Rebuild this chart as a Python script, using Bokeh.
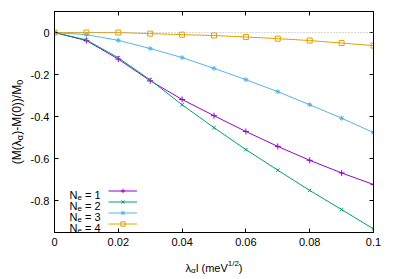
from bokeh.plotting import figure
from bokeh.models import (Range1d, LinearAxis, FixedTicker, CustomJSTickFormatter,
                          Legend, LegendItem, Label, Span)
from bokeh.embed import file_html
from bokeh.resources import INLINE

# ---------------- data ----------------
lam = [0.0, 0.01, 0.02, 0.03, 0.04, 0.05, 0.06, 0.07, 0.08, 0.09, 0.1]
ne1 = [0.0, -0.038, -0.126, -0.229, -0.318, -0.395, -0.470, -0.541, -0.607, -0.667, -0.722]
ne2 = [0.0, -0.035, -0.120, -0.225, -0.343, -0.452, -0.556, -0.654, -0.750, -0.841, -0.933]
ne3 = [0.0, -0.010, -0.037, -0.076, -0.119, -0.170, -0.224, -0.281, -0.343, -0.407, -0.475]
ne4 = [0.0, 0.0, 0.0, -0.005, -0.010, -0.014, -0.021, -0.029, -0.038, -0.050, -0.062]

series_names = ["1", "2", "3", "4"]
series_vals = [ne1, ne2, ne3, ne4]
colors = ["#9400d3", "#009e73", "#56b4e9", "#e69f00"]
markers = ["cross", "x", "asterisk", "square"]
msizes = [6, 5, 5, 5]

xtick_vals = [0.0, 0.02, 0.04, 0.06, 0.08, 0.1]
xtick_labels = ["0", "0.02", "0.04", "0.06", "0.08", "0.1"]
ytick_vals = [-0.8, -0.6, -0.4, -0.2, 0.0]
ytick_labels = ["-0.8", "-0.6", "-0.4", "-0.2", "0"]

FONT = "Liberation Sans"
XMIN, XMAX, YMIN, YMAX = 0.0, 0.1, -0.95, 0.1
FW, FH = 399, 279
BL, BR, BT, BB = 54, 26, 11, 47
PW, PH = FW - BL - BR, FH - BT - BB

p = figure(width=FW, height=FH, output_backend="svg", toolbar_location=None,
           x_range=Range1d(XMIN, XMAX), y_range=Range1d(YMIN, YMAX),
           min_border_left=BL, min_border_right=BR, min_border_top=BT, min_border_bottom=BB,
           x_axis_location=None, y_axis_location=None)
p.xgrid.visible = False
p.ygrid.visible = False
p.outline_line_color = "black"

fmt_code = """
let best = 0;
for (let i = 0; i < vals.length; i++) {
  if (Math.abs(vals[i] - tick) < Math.abs(vals[best] - tick)) best = i;
}
return labs[best];
"""

def make_axis(ticks, labs, show):
    if show:
        f = CustomJSTickFormatter(args=dict(vals=ticks, labs=labs), code=fmt_code)
    else:
        f = CustomJSTickFormatter(code="return '';")
    return LinearAxis(ticker=FixedTicker(ticks=ticks), formatter=f,
                      major_tick_in=4, major_tick_out=0,
                      minor_tick_line_color=None,
                      axis_line_color="black", major_tick_line_color="black",
                      major_label_text_font=FONT, major_label_text_font_size="11px",
                      major_label_text_color="black",
                      major_label_standoff=5 if show else 0)

p.add_layout(make_axis(xtick_vals, xtick_labels, True), "below")
p.add_layout(make_axis(ytick_vals, ytick_labels, True), "left")
p.add_layout(make_axis(xtick_vals, xtick_labels, False), "above")
p.add_layout(make_axis(ytick_vals, ytick_labels, False), "right")

p.add_layout(Span(location=0, dimension="width", line_color="#b0b0b0",
                  line_dash="1 2", line_width=1))

items = []
for name, vals, c, m, s in zip(series_names, series_vals, colors, markers, msizes):
    r1 = p.line(lam, vals, line_color=c, line_width=1)
    r2 = p.scatter(lam, vals, marker=m, size=s, line_color=c,
                   fill_color=None if m == "square" else c, line_width=1)
    items.append(LegendItem(label=" ", renderers=[r1, r2]))

legend = Legend(items=items, location=(54, 3), orientation="vertical",
                glyph_width=29, glyph_height=11, label_width=0, label_height=11,
                label_standoff=0, spacing=0, padding=0, margin=0,
                border_line_color=None, background_fill_alpha=0,
                label_text_font_size="1px")
p.add_layout(legend)

# ---------------- text helpers (picture pixels -> data units) ----------------
W = {'N': 722, 'e': 556, ' ': 278, '=': 584, '1': 556, '2': 556, '3': 556, '4': 556,
     '(': 333, ')': 333, 'M': 833, '-': 333, '0': 556, '/': 278, 'l': 222,
     'm': 833, 'V': 667, 'λ': 500, 'α': 578,
     '\u00a0': 278, '\u2006': 167, '\u2003': 1000}

def tw(t, size):
    return sum(W.get(ch, 556) for ch in t) * size / 1000.0

def dx(px):
    return XMIN + (px - BL) / PW * (XMAX - XMIN)

def dy(py):
    return YMAX - (py - BT) / PH * (YMAX - YMIN)

def put(text, px, py, size, side=None, vertical=False):
    lab = Label(x=dx(px), y=dy(py), text=text,
                angle=1.5707963267948966 if vertical else 0.0,
                text_font=FONT, text_font_size=f"{size}px",
                text_color="black", text_baseline="alphabetic", text_align="left")
    if side:
        p.add_layout(lab, side)
    else:
        p.add_layout(lab)

# legend texts (inside the frame)
for i, name in enumerate(series_names):
    yb = 194 + 11 * i
    x = 69.0
    put("N", x, yb, 11)
    x += tw("N", 11)
    put("e", x, yb + 3, 8)
    x += tw("e", 8) + tw(" ", 11)
    put("= " + name, x, yb, 11)

# y axis label, rotated, reading upwards
GAP_A12 = "\u00a0\u2006"
y_a, y_b = "(M(λ", ")-M(0))/M"
y_main = y_a + GAP_A12 + y_b
y_len = tw(y_main, 12) + tw("0", 9)
y0 = 121.5 + y_len / 2
put(y_main, 16, y0, 12, side="left", vertical=True)
put("α", 19, y0 - tw(y_a, 12), 9, side="above", vertical=True)
put("0", 19, y0 - tw(y_main, 12), 9, side="above", vertical=True)

# x axis label
GAP_A11 = "\u00a0\u2006"
GAP_H11 = "\u2003"
x_a, x_b, x_c = "λ", "l (meV", ")"
x_main = x_a + GAP_A11 + x_b + GAP_H11 + x_c
x_len = tw(x_main, 11)
x0 = 213.5 - x_len / 2
xb = 267
put(x_main, x0, xb, 11, side="below")
put("α", x0 + tw(x_a, 11), xb + 3, 8, side="right")
put("1/2", x0 + tw(x_a + GAP_A11 + x_b, 11), xb - 4, 8, side="right")

open("out.html", "w").write(file_html(p, INLINE))
